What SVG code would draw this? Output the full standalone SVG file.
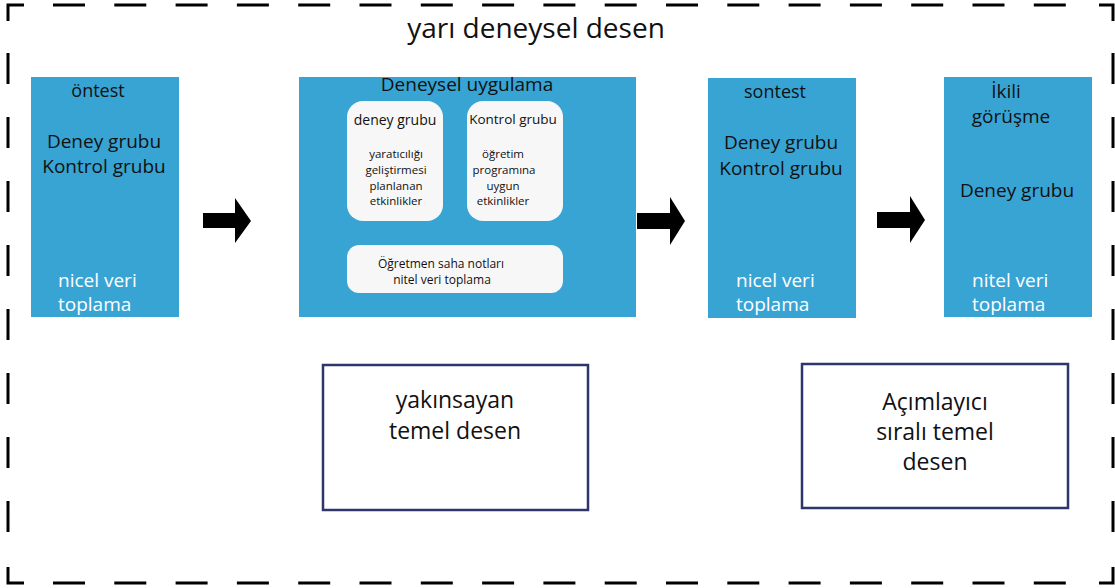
<svg xmlns="http://www.w3.org/2000/svg" width="1115" height="588" viewBox="0 0 1115 588">
<style>
text{font-family:"Open Sans","Noto Sans","Liberation Sans",sans-serif;fill:#111;}
.w{fill:#fff;}
.blue{fill:#38A4D4;}
.inner{fill:#F7F7F7;}
.frame{fill:none;stroke:#000;stroke-width:3;}
.outline{fill:#fff;stroke:#2E3568;stroke-width:2.5;}
.arrow{fill:#000;}
.c{text-anchor:middle;}
</style>
<g id="border" class="frame">
<path d="M8 21V5H24M1099 5H1113V21M8 567V583H24M1099 583H1113V567"/>
<path d="M53 5H1067" stroke-dasharray="32 29.3"/>
<path d="M53 583H1067" stroke-dasharray="32 29.3"/>
<path d="M8 53V533" stroke-dasharray="31 33"/>
<path d="M1113 53V533" stroke-dasharray="31 33"/>
</g>
<text id="title" x="536" y="38" class="c" font-size="28">yarı deneysel desen</text>
<g id="ontest">
<rect class="blue" x="31" y="77" width="148" height="240"/>
<text x="98" y="97" class="c" font-size="18">öntest</text>
<text x="104" y="148" class="c" font-size="19">Deney grubu</text>
<text x="104" y="173" class="c" font-size="19">Kontrol grubu</text>
<text x="58" y="287" class="w" font-size="19">nicel veri</text>
<text x="58" y="311" class="w" font-size="19">toplama</text>
</g>
<g id="uygulama">
<rect class="blue" x="299" y="77" width="337" height="240"/>
<text x="467" y="91" class="c" font-size="19">Deneysel uygulama</text>
<rect class="inner" x="347" y="101" width="96" height="120" rx="16"/>
<text x="395" y="125" class="c" font-size="14">deney grubu</text>
<text x="396" y="158" class="c" font-size="11.5">yaratıcılığı</text>
<text x="396" y="174" class="c" font-size="11.5">geliştirmesi</text>
<text x="396" y="190" class="c" font-size="11.5">planlanan</text>
<text x="396" y="205" class="c" font-size="11.5">etkinlikler</text>
<rect class="inner" x="467" y="101" width="96" height="120" rx="16"/>
<text x="513" y="124" class="c" font-size="13.5">Kontrol grubu</text>
<text x="503" y="158" class="c" font-size="11.5">öğretim</text>
<text x="504" y="174" class="c" font-size="11.5">programına</text>
<text x="503" y="190" class="c" font-size="11.5">uygun</text>
<text x="503" y="205" class="c" font-size="11.5">etkinlikler</text>
<rect class="inner" x="347" y="245" width="216" height="48" rx="12"/>
<text x="441" y="268" class="c" font-size="12">Öğretmen saha notları</text>
<text x="442" y="284" class="c" font-size="12">nitel veri toplama</text>
</g>
<g id="sontest">
<rect class="blue" x="708" y="78" width="148" height="240"/>
<text x="775" y="98" class="c" font-size="18">sontest</text>
<text x="781" y="149" class="c" font-size="19">Deney grubu</text>
<text x="781" y="175" class="c" font-size="19">Kontrol grubu</text>
<text x="736" y="287" class="w" font-size="19">nicel veri</text>
<text x="736" y="311" class="w" font-size="19">toplama</text>
</g>
<g id="gorusme">
<rect class="blue" x="944" y="77" width="148" height="240"/>
<text x="1006" y="98" class="c" font-size="19">İkili</text>
<text x="1011" y="123" class="c" font-size="19">görüşme</text>
<text x="1017" y="197" class="c" font-size="19">Deney grubu</text>
<text x="972" y="287" class="w" font-size="19">nitel veri</text>
<text x="972" y="311" class="w" font-size="19">toplama</text>
</g>
<g id="yakinsayan">
<rect class="outline" x="323" y="365" width="265" height="145"/>
<text x="455" y="408" class="c" font-size="23">yakınsayan</text>
<text x="455" y="439" class="c" font-size="23">temel desen</text>
</g>
<g id="acimlayici">
<rect class="outline" x="802" y="364" width="266" height="144"/>
<text x="935" y="410" class="c" font-size="23">Açımlayıcı</text>
<text x="935" y="440" class="c" font-size="23">sıralı temel</text>
<text x="935" y="470" class="c" font-size="23">desen</text>
</g>
<g id="connectors" class="arrow">
<path d="M203 213H235V198L251 221L235 243V228H203Z"/>
<path d="M637 213H670V197L685 221L670 245V229H637Z"/>
<path d="M877 212H910V196L925 220L910 243V228H877Z"/>
</g>
</svg>
